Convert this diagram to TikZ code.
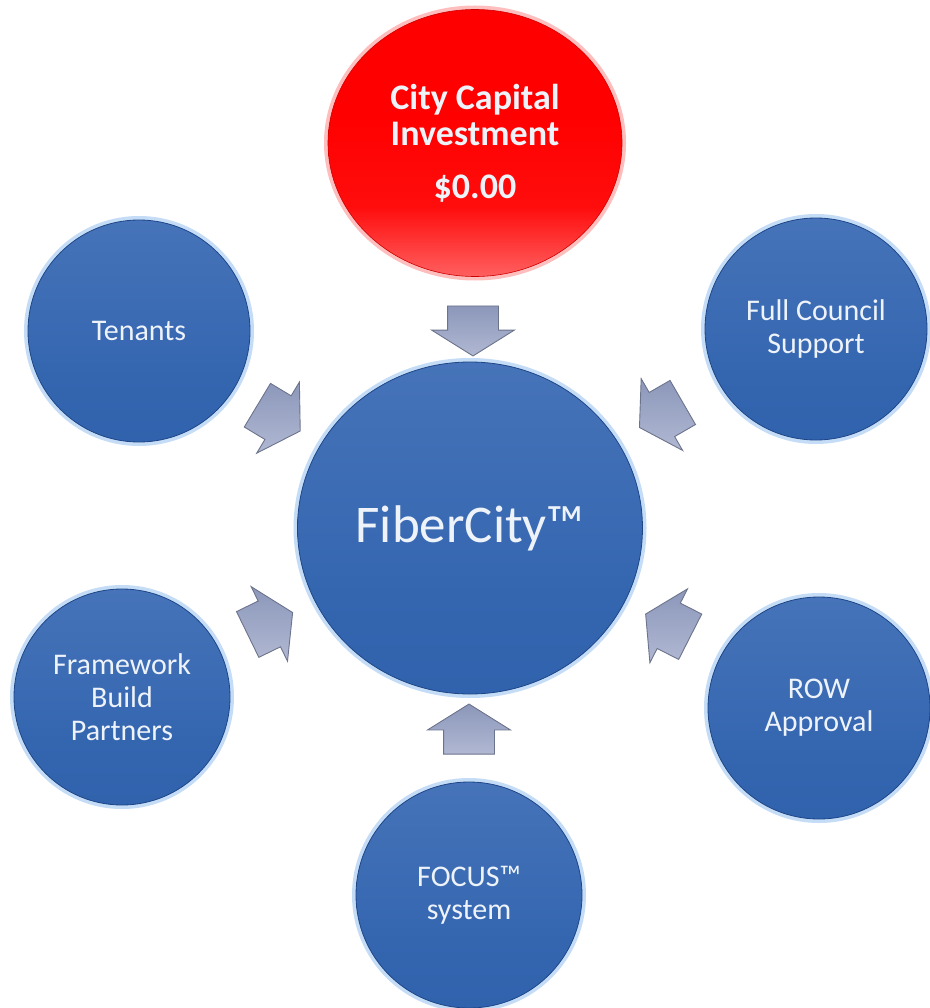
\documentclass[tikz,border=0pt]{standalone}
\usepackage{fontspec}
\setmainfont{Carlito}
\usetikzlibrary{shapes.geometric,shapes.arrows}
\definecolor{bluetop}{RGB}{112,146,205}
\definecolor{bluemid}{RGB}{52,102,176}
\definecolor{bluebot}{RGB}{42,92,168}
\definecolor{blueedge}{RGB}{30,70,135}
\definecolor{glowblue}{RGB}{196,220,246}
\definecolor{glowred}{RGB}{255,190,190}
\definecolor{txtwhite}{RGB}{238,243,250}
\definecolor{arrowline}{RGB}{108,116,140}
\definecolor{arrowtop}{RGB}{140,151,186}
\definecolor{arrowbot}{RGB}{176,184,210}
\pgfdeclareverticalshading{bluesph}{100bp}{color(0bp)=(bluebot); color(40bp)=(bluemid); color(75bp)=(bluemid!70!bluetop); color(100bp)=(bluetop)}
\pgfdeclareverticalshading{redsph}{100bp}{color(0bp)=(red!6); color(14bp)=(red!35); color(38bp)=(red!95); color(55bp)=(red); color(100bp)=(red)}
\tikzset{
  bcirc/.style={circle, minimum size=222pt, inner sep=0pt, shading=bluesph,
    draw=blueedge, line width=0.8pt, text=txtwhite, align=center,
    font=\fontsize{30}{33}\selectfont,
    preaction={draw=glowblue, line width=8pt}},
  inarrow/.style={single arrow, draw=arrowline, line width=0.9pt,
    top color=arrowtop, bottom color=arrowbot, inner xsep=0pt, inner ysep=25pt,
    minimum height=50pt,
    single arrow head extend=16pt, single arrow tip angle=116},
}
\begin{document}
\begin{tikzpicture}[x=1pt,y=-1pt]
\useasboundingbox (0,0) rectangle (929,1008);
\fill[white] (0,0) rectangle (929,1008);

% centre
\node[bcirc, ellipse, minimum width=345pt, minimum height=332pt,
  font=\fontsize{53}{58}\selectfont] (fiber) at (470,528) {FiberCity™};

% top red
\node[ellipse, minimum width=294pt, minimum height=267pt, inner sep=0pt,
  shading=redsph, draw=red!80!black, line width=0.6pt,
  preaction={draw=glowred, line width=8pt},
  text=txtwhite, align=center, font=\bfseries\fontsize{36}{36}\selectfont]
  (city) at (475,143) {City Capital\\Investment\\[17pt]\$0.00};

% satellites
\node[bcirc] (ten) at (139,331) {Tenants};
\node[bcirc] (full) at (816,329) {Full Council\\Support};
\node[bcirc, minimum size=216pt] (frame) at (122,697) {Framework\\Build\\Partners};
\node[bcirc] (row) at (819,708) {ROW\\Approval};
\node[bcirc, minimum size=226pt] (focus) at (469,895) {FOCUS™\\system};

% block arrows
\node[inarrow, rotate=-90] (a1) at (473,323) {};
\node[inarrow, rotate=90] (a2) at (469,737) {};
\node[inarrow, rotate=-31] (a3) at (272,414) {};
\node[inarrow, rotate=-150] (a4) at (668,411) {};
\node[inarrow, rotate=26] (a5) at (263,627) {};
\node[inarrow, rotate=153] (a6) at (675,629) {};
\end{tikzpicture}
\end{document}
